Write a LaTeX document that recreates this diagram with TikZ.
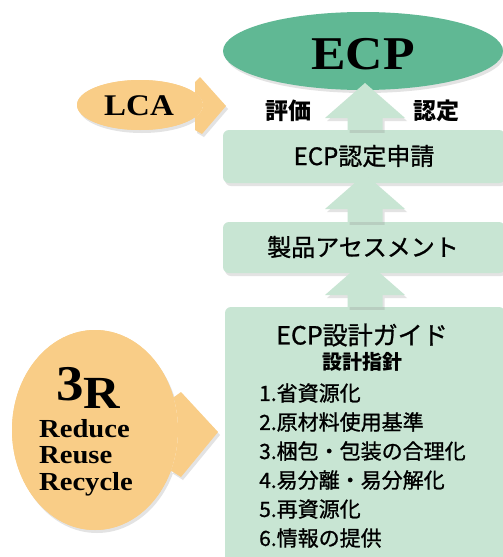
\documentclass[tikz,border=0pt]{standalone}
\usepackage{fontspec}
\setmainfont{Liberation Serif}
\newfontfamily\wideserif[FakeStretch=1.1]{Liberation Serif}
\newfontfamily\jp[FakeBold=1]{Noto Sans CJK JP}
\newfontfamily\jpb{Noto Sans CJK JP}
\usetikzlibrary{shadows,calc,shapes.geometric}
\definecolor{ecpgreen}{RGB}{96,184,148}
\definecolor{lightgreen}{RGB}{200,229,211}
\definecolor{peach}{RGB}{249,205,135}
\tikzset{
  shade/.style={drop shadow={opacity=0.22,shadow xshift=2pt,shadow yshift=-3pt}},
  greenbox/.style={rectangle,rounded corners=6pt,fill=lightgreen,shade,inner sep=0pt},
  boxtext/.style={font=\jp\fontsize{24}{24}\selectfont,inner sep=0pt},
  itemtext/.style={font=\jp\fontsize{21}{21}\selectfont,inner sep=0pt,anchor=west},
  boldtext/.style={inner sep=0pt,font=\jpb\bfseries\fontsize{23}{23}\selectfont},
  serifbig/.style={font=\wideserif\bfseries,inner sep=0pt},
  arrowfill/.style={fill=lightgreen,shade},
  peachfill/.style={fill=peach,shade}
}
\newcommand\greenarrow[2]{%
  \path[arrowfill] let \p1=(#1), \p2=(#2) in
    (\x2-17.5pt,\y1) -- (\x2-17.5pt,\y2-35pt) -- (\x2-40pt,\y2-35pt) -- (\x2,\y2)
    -- (\x2+40pt,\y2-35pt) -- (\x2+17.5pt,\y2-35pt) -- (\x2+17.5pt,\y1) -- cycle;}
\begin{document}
\begin{tikzpicture}[x=1pt,y=-1pt]
\useasboundingbox (0,0) rectangle (503,557);
\clip (0,0) rectangle (503,557);
\fill[white] (0,0) rectangle (503,557);

% ECP ellipse
\node[ellipse,fill=ecpgreen,shade,minimum width=280pt,minimum height=78pt,inner sep=0pt] (ecp) at (363,51) {};
\node[serifbig,font=\wideserif\bfseries\fontsize{47}{47}\selectfont] (ecptext) at (363,54) {ECP};

% boxes
\node[greenbox,minimum width=282pt,minimum height=53pt] (b1) at (364,156.5) {};
\node[boxtext] (b1t) at (364,156) {ECP認定申請};
\node[greenbox,minimum width=282pt,minimum height=51pt] (b2) at (364,247.5) {};
\node[boxtext] (b2t) at (363,247) {製品アセスメント};
\node[greenbox,minimum width=280pt,minimum height=270pt] (b3) at (365,442) {};
\node[boxtext,font=\jp\fontsize{25}{25}\selectfont] (b3t) at (362,335) {ECP設計ガイド};
\node[boldtext,font=\jpb\bfseries\fontsize{20}{20}\selectfont] (b3s) at (362,362) {設計指針};
\node[itemtext] (i1) at (259,393) {1.省資源化};
\node[itemtext] (i2) at (259,422) {2.原材料使用基準};
\node[itemtext] (i3) at (259,451) {3.梱包・包装の合理化};
\node[itemtext] (i4) at (259,480) {4.易分離・易分解化};
\node[itemtext] (i5) at (259,509) {5.再資源化};
\node[itemtext] (i6) at (259,538) {6.情報の提供};

% arrows
\coordinate (tip1) at (365,83);
\coordinate (tip2) at (365,174);
\coordinate (tip3) at (365,260);
\greenarrow{b1.north}{tip1}
\greenarrow{b2.north}{tip2}
\greenarrow{b3.north}{tip3}

% labels
\node[boldtext] (hyoka) at (288,111) {評価};
\node[boldtext] (nintei) at (436,111) {認定};

% LCA
\path[peachfill] (140,105) ellipse [x radius=63pt, y radius=25pt]
  (200,77) -- (226,106) -- (202,134) -- (195,130) -- (195,82) -- cycle;
\fill[peach] (140,105) ellipse [x radius=63pt, y radius=25pt];
\node[serifbig,font=\wideserif\bfseries\fontsize{30}{30}\selectfont] (lca) at (139,106) {LCA};

% 3R
\path[peachfill] (95,430) ellipse [x radius=83pt, y radius=100pt]
  (181,392) -- (218,432) -- (181,477) -- (170,470) -- (170,400) -- cycle;
\fill[peach] (95,430) ellipse [x radius=83pt, y radius=100pt];
\node[serifbig,anchor=base west,font=\wideserif\bfseries\fontsize{50}{50}\selectfont] (three) at (56,400) {3\raisebox{-8pt}{\fontsize{46}{46}\selectfont R}};
\node[serifbig,anchor=base west,font=\wideserif\bfseries\fontsize{26}{26}\selectfont] (reduce) at (39,437) {Reduce};
\node[serifbig,anchor=base west,font=\wideserif\bfseries\fontsize{26}{26}\selectfont] (reuse) at (39,463) {Reuse};
\node[serifbig,anchor=base west,font=\wideserif\bfseries\fontsize{26}{26}\selectfont] (recycle) at (39,490) {Recycle};
\end{tikzpicture}
\end{document}
